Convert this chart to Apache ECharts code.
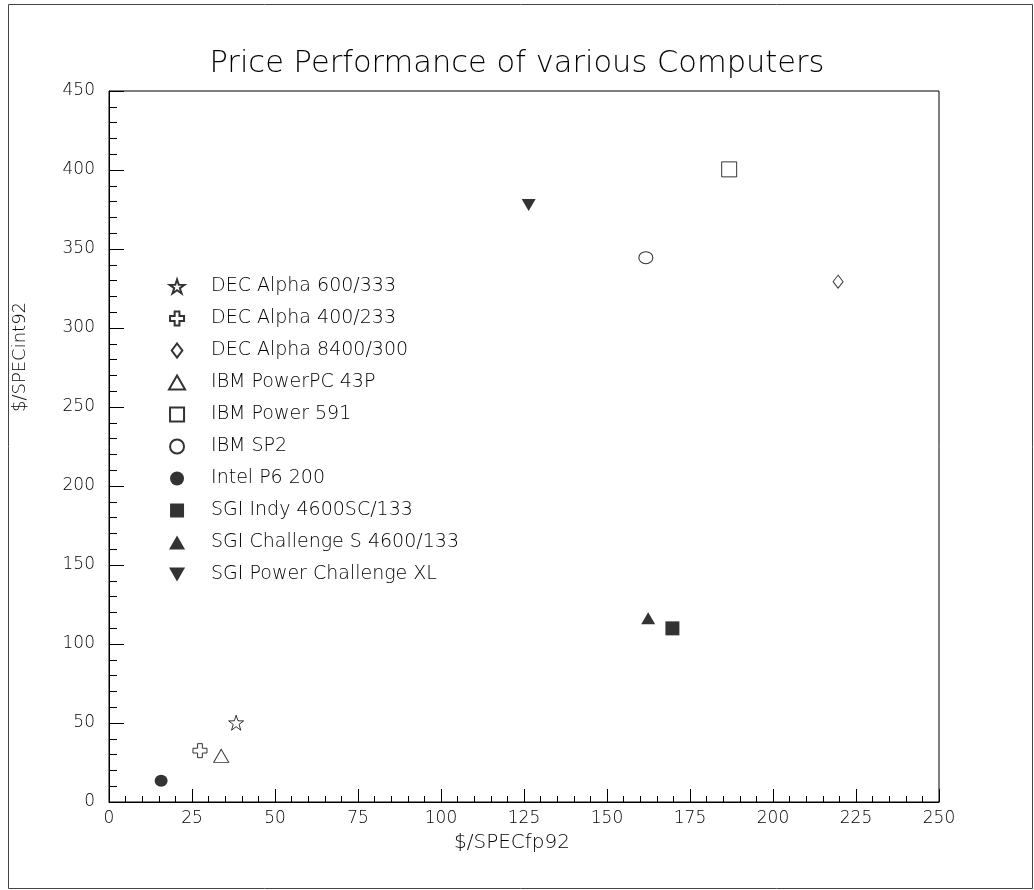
<!DOCTYPE html>
<html>
<head>
<meta charset="utf-8">
<script src="https://cdn.jsdelivr.net/npm/echarts@6/dist/echarts.min.js"></script>
<style>
html,body{margin:0;padding:0;background:#fff;}
#chart{width:1034px;height:890px;}
</style>
</head>
<body>
<div id="chart"></div>
<script>
const chartTitle = 'Price Performance of various Computers';
const xAxisName = '$/SPECfp92';
const yAxisName = '$/SPECint92';
const computers = ['DEC Alpha 600/333','DEC Alpha 400/233','DEC Alpha 8400/300','IBM PowerPC 43P','IBM Power 591','IBM SP2','Intel P6 200','SGI Indy 4600SC/133','SGI Challenge S 4600/133','SGI Power Challenge XL'];
const fpPrice = [38.3, 27.4, 219.6, 33.8, 186.8, 161.7, 15.7, 169.7, 162.4, 126.4];
const intPrice = [50.2, 32.5, 329.3, 29.2, 400.4, 344.5, 13.5, 109.9, 116.3, 377.8];

const STAR = 'path://M50,0 L61.8,35.5 L100,36.3 L69.1,58.7 L80.9,95 L50,73 L19.1,95 L30.9,58.7 L0,36.3 L38.2,35.5 Z';
const CROSS = 'path://M33,0 L67,0 L67,33 L100,33 L100,67 L67,67 L67,100 L33,100 L33,67 L0,67 L0,33 L33,33 Z';
const DIAMOND = 'path://M38,0 L76,50 L38,100 L0,50 Z';
const TRI_UP = 'path://M50,0 L100,87 L0,87 Z';
const TRI_DOWN = 'path://M0,0 L100,0 L50,87 Z';
const SQUARE = 'path://M0,0 L100,0 L100,100 L0,100 Z';
const CIRCLE = 'path://M0,50 A50,50 0 1,0 100,50 A50,50 0 1,0 0,50 Z';
const styles = [
  {symbol: STAR, size: 15, filled: false},
  {symbol: CROSS, size: 14, filled: false},
  {symbol: DIAMOND, size: [10, 13], filled: false},
  {symbol: TRI_UP, size: [15, 13], filled: false},
  {symbol: SQUARE, size: 15, filled: false},
  {symbol: CIRCLE, size: [14, 12], filled: false},
  {symbol: CIRCLE, size: [13, 12], filled: true},
  {symbol: SQUARE, size: 14, filled: true},
  {symbol: TRI_UP, size: [14, 12], filled: true},
  {symbol: TRI_DOWN, size: [14, 12], filled: true}
];

const series = computers.map((name, i) => ({
  name: name,
  type: 'scatter',
  data: [[fpPrice[i], intPrice[i]]],
  symbol: styles[i].symbol,
  symbolSize: styles[i].size,
  itemStyle: styles[i].filled
    ? {color: '#000', borderColor: '#000', borderWidth: 0}
    : {color: '#fff', borderColor: '#000', borderWidth: 1},
  emphasis: {disabled: true},
  animation: false
}));

const FONT = 'DejaVu Sans';
const chart = echarts.init(document.getElementById('chart'), null, {renderer: 'canvas'});
chart.setOption({
  animation: false,
  backgroundColor: '#fff',
  title: {
    text: chartTitle,
    left: 'center',
    top: 44,
    textStyle: {fontFamily: FONT, fontSize: 30.5, fontWeight: 200, color: '#000'}
  },
  grid: {
    left: 109, top: 91, right: 95, bottom: 88,
    show: true, borderColor: '#000', borderWidth: 1, backgroundColor: 'transparent'
  },
  legend: {
    orient: 'vertical',
    left: 163,
    top: 272,
    itemWidth: 58,
    itemHeight: 14,
    itemGap: 13,
    selectedMode: false,
    textStyle: {fontFamily: FONT, fontSize: 19, fontWeight: 200, color: '#000'},
    data: computers
  },
  xAxis: {
    type: 'value',
    min: 0, max: 250, interval: 25,
    axisLine: {show: true, onZero: false, lineStyle: {color: '#000', width: 1}},
    axisTick: {show: true, inside: true, length: 13, lineStyle: {color: '#000'}},
    minorTick: {show: true, splitNumber: 5, length: 6, lineStyle: {color: '#000'}},
    splitLine: {show: false},
    axisLabel: {fontFamily: FONT, fontSize: 17, fontWeight: 200, color: '#000', margin: 8}
  },
  yAxis: {
    type: 'value',
    min: 0, max: 450, interval: 50,
    axisLine: {show: true, onZero: false, lineStyle: {color: '#000', width: 1}},
    axisTick: {show: true, inside: true, length: 15, lineStyle: {color: '#000'}},
    minorTick: {show: true, splitNumber: 5, length: 8, lineStyle: {color: '#000'}},
    splitLine: {show: false},
    axisLabel: {fontFamily: FONT, fontSize: 17, fontWeight: 200, color: '#000', margin: 14}
  },
  graphic: [
    {type: 'rect', left: 6, top: 2, silent: true,
     shape: {width: 1024, height: 884}, style: {fill: 'none', stroke: '#444', lineWidth: 1}},
    {type: 'text', x: 512, y: 843, silent: true,
     style: {text: xAxisName, fontFamily: FONT, fontSize: 20, fontWeight: 200, fill: '#000', align: 'center', verticalAlign: 'middle'}},
    {type: 'text', x: 20, y: 357, rotation: Math.PI / 2, silent: true,
     style: {text: yAxisName, fontFamily: FONT, fontSize: 18, fontWeight: 200, fill: '#000', align: 'center', verticalAlign: 'middle'}}
  ],
  series: series
});
</script>
</body>
</html>
